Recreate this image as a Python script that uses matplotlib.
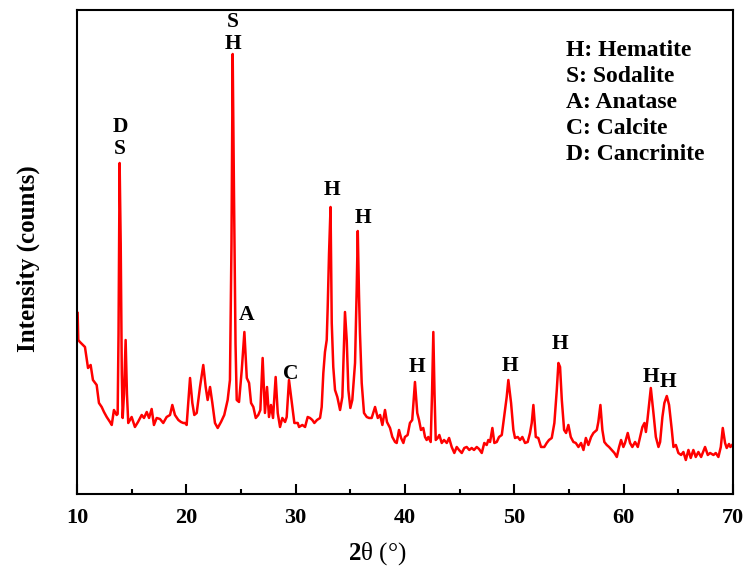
import matplotlib
matplotlib.use("Agg")
import matplotlib.pyplot as plt

plt.rcParams['font.family'] = 'Liberation Serif'
plt.rcParams['mathtext.fontset'] = 'custom'
plt.rcParams['mathtext.rm'] = 'Liberation Serif'
plt.rcParams['mathtext.bf'] = 'Liberation Serif:bold'

### Data ###
two_theta = [
    10.06, 10.12, 10.27, 10.73, 11.01, 11.25, 11.46, 11.80, 12.01, 12.26,
    12.47, 12.72, 13.02, 13.18, 13.38, 13.63, 13.72, 13.80, 13.90, 14.00,
    14.10, 14.18, 14.30, 14.45, 14.57, 14.69, 15.00, 15.30, 15.58, 15.92,
    16.13, 16.38, 16.59, 16.83, 17.04, 17.29, 17.59, 17.89, 18.20, 18.51,
    18.72, 18.96, 19.27, 19.51, 19.72,
    19.88, 20.03, 20.34, 20.55, 20.73, 20.95, 21.25, 21.55, 21.77, 21.95,
    22.17, 22.38, 22.62, 22.87, 23.17, 23.47, 23.78, 23.99, 24.13, 24.24,
    24.36, 24.50, 24.61, 24.82, 25.07, 25.31, 25.53, 25.74, 25.92, 26.13,
    26.35, 26.58, 26.77, 26.98, 27.19, 27.38, 27.56, 27.74, 27.93, 28.17,
    28.36, 28.57, 28.78, 29.03, 29.18, 29.39, 29.64, 29.88,
    30.19, 30.31, 30.61, 30.86, 31.10, 31.31, 31.52, 31.71, 31.95, 32.23,
    32.38, 32.53, 32.68, 32.84, 32.93, 33.05, 33.19, 33.30, 33.44, 33.60,
    33.81, 34.06, 34.27, 34.51, 34.67, 34.82, 35.00, 35.18, 35.43, 35.58,
    35.68, 35.79, 35.88, 36.04, 36.25, 36.50, 36.71, 36.95, 37.26, 37.51,
    37.72, 37.93, 38.17, 38.35, 38.63, 38.84, 39.09, 39.24, 39.45, 39.64,
    39.85,
    39.99, 40.24, 40.45, 40.66, 40.91, 41.12, 41.28, 41.46, 41.67, 41.83,
    41.98, 42.13, 42.35, 42.47, 42.59, 42.70, 42.81, 42.99, 43.14, 43.36,
    43.57, 43.82, 44.03, 44.27, 44.51, 44.73, 44.94, 45.19, 45.42, 45.64,
    45.88, 46.10, 46.31, 46.56, 46.77, 47.02, 47.25, 47.47, 47.62, 47.78,
    47.99, 48.17, 48.39, 48.60, 48.85, 49.06, 49.30, 49.45, 49.70, 49.91,
    50.06, 50.31, 50.52, 50.73, 50.98, 51.22, 51.43, 51.59, 51.74, 51.96,
    52.19, 52.44, 52.74, 52.96, 53.17, 53.42, 53.66, 53.88, 54.03, 54.18,
    54.34, 54.55, 54.73, 54.94, 55.16, 55.40, 55.62, 55.86, 56.10, 56.32,
    56.54, 56.77, 57.02, 57.23, 57.54, 57.68, 57.87, 58.05, 58.23, 58.45,
    58.66, 58.91, 59.15, 59.37, 59.58, 59.76, 59.97,
    60.12, 60.37, 60.58, 60.79, 61.04, 61.29, 61.50, 61.71, 61.90, 62.03,
    62.17, 62.48, 62.72, 62.94, 63.18, 63.33, 63.54, 63.72, 63.94, 64.15,
    64.40, 64.55, 64.77, 65.00, 65.25, 65.46, 65.68, 65.92, 66.13, 66.37,
    66.59, 66.83, 67.08, 67.44, 67.69, 67.90, 68.21, 68.42, 68.66, 68.88,
    69.06, 69.27, 69.42, 69.63, 69.76, 69.92,
]
counts = [
    181, 154, 152, 147, 126, 129, 114, 109, 91, 87,
    82, 77, 72, 69, 84, 79, 80, 160, 331, 250,
    120, 76, 100, 154, 100, 71, 77, 67, 72, 79,
    76, 82, 76, 85, 69, 76, 75, 71, 77, 79,
    89, 79, 74, 72, 71,
    71, 69, 116, 91, 79, 81, 107, 129, 107, 94,
    107, 91, 71, 66, 72, 79, 94, 114, 250, 440,
    300, 150, 94, 92, 124, 162, 116, 111, 91, 87,
    76, 79, 84, 136, 81, 107, 77, 89, 76, 117,
    81, 67, 76, 72, 77, 114, 92, 71,
    71, 67, 69, 67, 77, 76, 74, 71, 74, 76,
    87, 121, 142, 154, 187, 240, 287, 171, 127, 104,
    97, 84, 97, 182, 154, 104, 86, 94, 131, 204,
    263, 200, 161, 111, 81, 77, 76, 76, 87, 76,
    79, 69, 84, 72, 66, 57, 52, 51, 64, 56,
    51,
    57, 59, 71, 74, 112, 81, 74, 64, 66, 57,
    54, 57, 52, 100, 162, 100, 54, 56, 59, 51,
    54, 51, 56, 47, 41, 47, 44, 41, 46, 47,
    44, 46, 44, 47, 45, 41, 51, 49, 54, 52,
    66, 51, 52, 57, 59, 77, 97, 114, 91, 64,
    56, 57, 54, 57, 51, 52, 61, 71, 89, 57,
    56, 47, 47, 51, 54, 56, 71, 104, 131, 127,
    94, 64, 61, 69, 57, 52, 51, 47, 51, 44,
    56, 49, 57, 61, 64, 72, 89, 64, 52, 49,
    47, 44, 41, 37, 47, 54, 47,
    51, 61, 51, 47, 52, 47, 57, 67, 71, 62,
    74, 106, 81, 57, 47, 52, 77, 91, 98, 89,
    64, 47, 49, 41, 39, 42, 34, 44, 36, 44,
    37, 42, 37, 47, 39, 41, 39, 41, 37, 47,
    66, 51, 46, 50, 47, 49,
]

# peak labels
label_x = [13.93, 24.24, 25.55, 29.57, 33.32, 36.16, 41.10, 49.60, 54.18, 62.50, 64.06]
label_y = [356, 461, 179, 120, 304, 276, 127, 128, 150, 117, 112]
label_txt = ["D\nS", "S\nH", "A", "C", "H", "H", "H", "H", "H", "H", "H"]

phases = ["H: Hematite", "S: Sodalite", "A: Anatase", "C: Calcite", "D: Cancrinite"]

### Plotting ###
fig = plt.figure(figsize=(7.43, 5.72), dpi=100)
ax = fig.add_axes([0.1036, 0.1364, 0.883, 0.8461])
ax.plot(two_theta, counts, color='#ff0000', lw=1.8)

for x, y, t in zip(label_x, label_y, label_txt):
    ax.text(x, y, t, ha='center', va='center', fontsize=15.5, fontweight='bold',
            linespacing=1.1)

for i, p in enumerate(phases):
    ax.text(0.745, 0.917 - i * 0.054, p, transform=ax.transAxes, ha='left',
            va='center', fontsize=17, fontweight='bold')

ax.set_xlim(10, 70)
ax.set_ylim(0, 484)
ax.set_xticks(range(10, 71, 10))
ax.set_xticks(range(15, 70, 10), minor=True)
ax.set_yticks([])
ax.tick_params(axis='x', which='major', direction='in', length=7, width=1.5,
               labelsize=16, pad=10)
ax.tick_params(axis='x', which='minor', direction='in', length=3.5, width=1.5)
for lbl in ax.get_xticklabels():
    lbl.set_fontweight('bold')
for s in ax.spines.values():
    s.set_linewidth(1.5)

ax.set_xlabel(r'$\mathbf{2}$θ (°)', fontsize=18)
ax.xaxis.set_label_coords(0.457, -0.095)
ax.set_ylabel('Intensity (counts)', fontsize=18, fontweight='bold')
ax.yaxis.set_label_coords(-0.056, 0.486)

plt.savefig('out.png', dpi=100)
